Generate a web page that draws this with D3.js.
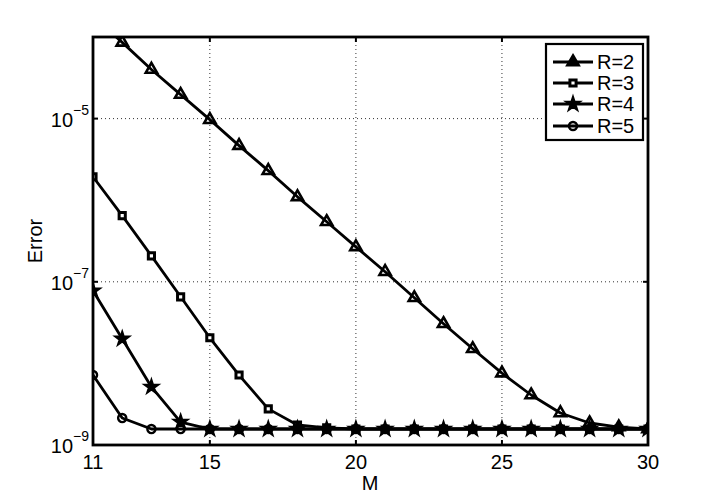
<!DOCTYPE html>
<html>
<head>
<meta charset="utf-8">
<script src="https://cdn.jsdelivr.net/npm/d3@7"></script>
<style>
  body { margin: 0; background: #fff; }
  svg { display: block; font-family: "Liberation Sans", Arial, Helvetica, sans-serif; }
</style>
</head>
<body>
<svg id="chart" width="716" height="502"></svg>
<script>
const M = [11,12,13,14,15,16,17,18,19,20,21,22,23,24,25,26,27,28,29,30];
const F = 1.57e-9;
const R2 = [1.8e-4, 8.6e-5, 4.0e-5, 1.97e-5, 9.7e-6, 4.67e-6, 2.3e-6, 1.1e-6, 5.44e-7, 2.68e-7, 1.33e-7, 6.37e-8, 3.06e-8, 1.51e-8, 7.6e-9, 4.1e-9, 2.47e-9, 1.86e-9, 1.66e-9, 1.57e-9];
const R3 = [1.94e-6, 6.46e-7, 2.08e-7, 6.55e-8, 2.06e-8, 7.2e-9, 2.77e-9, 1.76e-9, 1.62e-9, F, F, F, F, F, F, F, F, F, F, F];
const R4 = [7.76e-8, 2.0e-8, 5.15e-9, 1.91e-9, F, F, F, F, F, F, F, F, F, F, F, F, F, F, F, F];
const R5 = [7.2e-9, 2.14e-9, F, F, F, F, F, F, F, F, F, F, F, F, F, F, F, F, F, F];
const seriesNames = ["R=2", "R=3", "R=4", "R=5"];
const seriesData = [R2, R3, R4, R5];
const xTicks = [11, 15, 20, 25, 30];
const xGrid = [15, 20, 25];
const yTicks = [1e-9, 1e-7, 1e-5];
const yTickExp = ["−9", "−7", "−5"];
const yGrid = [1e-7, 1e-5];

const svg = d3.select("#chart");
const L = 93, Rr = 648, T = 37, B = 445;
const x = d3.scaleLinear().domain([11, 30]).range([L, Rr]);
const y = d3.scaleLog().domain([1e-9, 1e-4]).range([B, T]);

// grid
const g = svg.append("g");
g.selectAll(".vg").data(xGrid).enter().append("line")
  .attr("x1", d => x(d)).attr("x2", d => x(d)).attr("y1", T).attr("y2", B)
  .attr("stroke", "#333").attr("stroke-width", 1).attr("stroke-dasharray", "1,3");
g.selectAll(".hg").data(yGrid).enter().append("line")
  .attr("y1", d => y(d)).attr("y2", d => y(d)).attr("x1", L).attr("x2", Rr)
  .attr("stroke", "#333").attr("stroke-width", 1).attr("stroke-dasharray", "1,3");

// ticks (inward, on all four sides)
const tl = 5;
xGrid.forEach(d => {
  g.append("line").attr("x1", x(d)).attr("x2", x(d)).attr("y1", B).attr("y2", B - tl).attr("stroke", "#000").attr("stroke-width", 2);
  g.append("line").attr("x1", x(d)).attr("x2", x(d)).attr("y1", T).attr("y2", T + tl).attr("stroke", "#000").attr("stroke-width", 2);
});
yGrid.forEach(d => {
  g.append("line").attr("y1", y(d)).attr("y2", y(d)).attr("x1", L).attr("x2", L + tl).attr("stroke", "#000").attr("stroke-width", 2);
  g.append("line").attr("y1", y(d)).attr("y2", y(d)).attr("x1", Rr).attr("x2", Rr - tl).attr("stroke", "#000").attr("stroke-width", 2);
});

// clip
svg.append("clipPath").attr("id", "clip").append("rect")
  .attr("x", L).attr("y", T).attr("width", Rr - L).attr("height", B - T);

const plot = svg.append("g").attr("clip-path", "url(#clip)");
const line = d3.line().x((d, i) => x(M[i])).y(d => y(d));

const symbols = [
  {type: d3.symbolTriangle, size: 55, fill: "none", sw: 2.6},
  {type: d3.symbolSquare, size: 38, fill: "#fff", sw: 3},
  {type: d3.symbolStar, size: 72, fill: "#000", sw: 1.5},
  {type: d3.symbolCircle, size: 52, fill: "none", sw: 2.4}
];

seriesData.forEach((data, k) => {
  plot.append("path").datum(data).attr("d", line)
    .attr("fill", "none").attr("stroke", "#000").attr("stroke-width", 2.8).attr("stroke-linejoin", "round");
  const s = symbols[k];
  plot.selectAll(".m" + k).data(data).enter().append("path")
    .attr("transform", (d, i) => `translate(${x(M[i])},${y(d)})`)
    .attr("d", d3.symbol().type(s.type).size(s.size))
    .attr("fill", s.fill).attr("stroke", "#000").attr("stroke-width", s.sw).attr("stroke-linejoin", "miter");
});

// axes box
svg.append("rect").attr("x", L).attr("y", T).attr("width", Rr - L).attr("height", B - T)
  .attr("fill", "none").attr("stroke", "#000").attr("stroke-width", 2.8);

// tick labels
svg.selectAll(".xl").data(xTicks).enter().append("text")
  .attr("x", d => x(d)).attr("y", 469).attr("text-anchor", "middle")
  .style("font-size", "20px").text(d => d);

yTicks.forEach((d, i) => {
  const t = svg.append("text").attr("x", 89).attr("y", y(d) + 8).attr("text-anchor", "end").style("font-size", "20px");
  t.append("tspan").text("10");
  t.append("tspan").attr("dy", -12).style("font-size", "14px").text(yTickExp[i]);
});

// axis labels
svg.append("text").attr("x", 370).attr("y", 490).attr("text-anchor", "middle").style("font-size", "20px").text("M");
svg.append("text").attr("transform", "translate(42,241) rotate(-90)").attr("text-anchor", "middle").style("font-size", "20px").text("Error");

// legend
const lg = svg.append("g");
lg.append("rect").attr("x", 546).attr("y", 44).attr("width", 97).attr("height", 96)
  .attr("fill", "#fff").attr("stroke", "#000").attr("stroke-width", 2.2);
const ly = [62, 83, 104, 126];
seriesNames.forEach((name, k) => {
  lg.append("line").attr("x1", 553).attr("x2", 593).attr("y1", ly[k]).attr("y2", ly[k])
    .attr("stroke", "#000").attr("stroke-width", 2.8);
  const s = symbols[k];
  lg.append("path").attr("transform", `translate(573,${ly[k]})`)
    .attr("d", d3.symbol().type(s.type).size(s.size))
    .attr("fill", k === 0 ? "#000" : s.fill).attr("stroke", "#000").attr("stroke-width", s.sw);
  lg.append("text").attr("x", 597).attr("y", ly[k] + 7).style("font-size", "20px").text(name);
});
</script>
</body>
</html>
